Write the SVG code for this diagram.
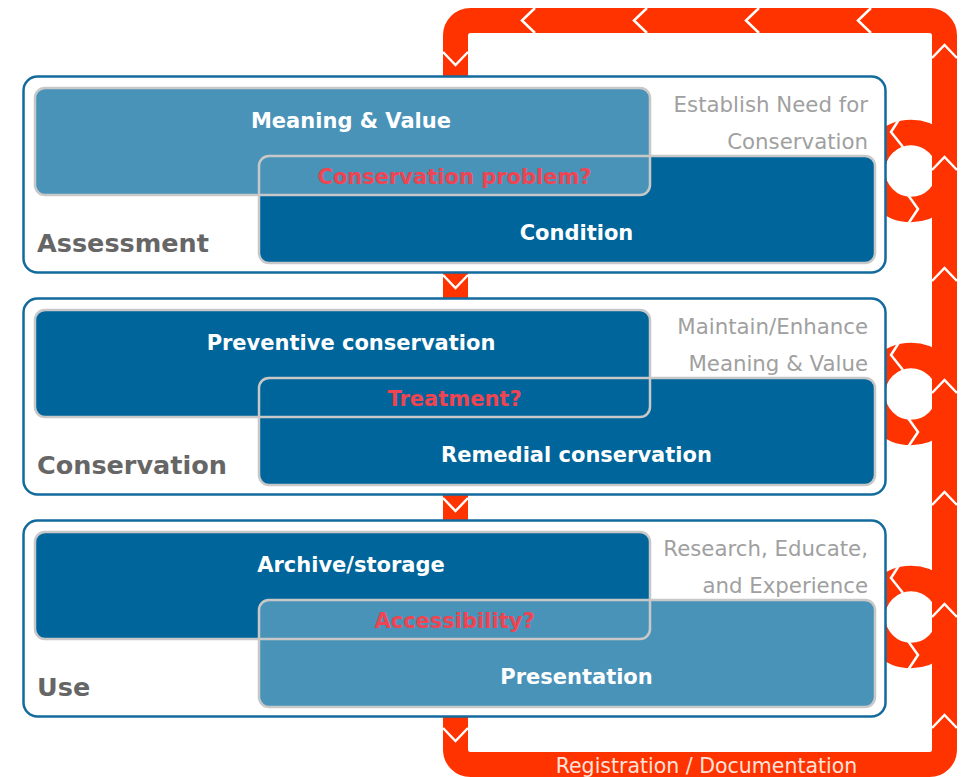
<svg xmlns="http://www.w3.org/2000/svg" width="966" height="777" viewBox="0 0 966 777">
  <style>
    text { font-family: "DejaVu Sans", Verdana, sans-serif; }
    .panel { fill: #ffffff; stroke: #126a9d; stroke-width: 2.5; }
    .light { fill: #4a93b8; }
    .dark { fill: #00659a; }
    .edge { fill: none; stroke: #c8c8c8; stroke-width: 2.5; }
    .box-label { fill: #ffffff; font-size: 21px; font-weight: bold; text-anchor: middle; }
    .question { fill: #ef4452; font-size: 21px; font-weight: bold; text-anchor: middle; }
    .stage { fill: #666666; font-size: 25.5px; font-weight: bold; }
    .aim { fill: #a0a0a0; font-size: 21.3px; text-anchor: end; }
    .band { fill: none; stroke: #ff3300; stroke-width: 25; }
    .notch { fill: none; stroke: #ffffff; stroke-width: 2.5; stroke-linejoin: miter; }
    .loop-label { fill: #fde2da; font-size: 20.5px; text-anchor: middle; }
  </style>
  <defs>
    <clipPath id="ring-clip">
      <rect x="840" y="0" width="105" height="777"/>
    </clipPath>
  </defs>

  <!-- connectors: registration loop with its sub-cycles -->
  <g id="connectors">
    <g clip-path="url(#ring-clip)">
      <circle cx="911" cy="171" r="38.5" fill="none" stroke="#ff3300" stroke-width="25.5"/>
      <circle cx="911" cy="394" r="38.5" fill="none" stroke="#ff3300" stroke-width="25.5"/>
      <circle cx="911" cy="617" r="38.5" fill="none" stroke="#ff3300" stroke-width="25.5"/>
    </g>
    <rect class="band" x="455.5" y="20.5" width="489" height="744" rx="15"/>

    <!-- direction notches on the sub-cycles -->
    <polyline class="notch" points="900,118 891,132 903,147"/>
    <polyline class="notch" points="908,195 918,209 908,224"/>
    <polyline class="notch" points="900,341 891,355 903,370"/>
    <polyline class="notch" points="908,418 918,432 908,447"/>
    <polyline class="notch" points="900,564 891,578 903,593"/>
    <polyline class="notch" points="908,641 918,655 908,670"/>

    <!-- direction notches, right side (upwards) -->
    <polyline class="notch" points="932,58 944.5,45 957,58"/>
    <polyline class="notch" points="932,170 944.5,157 957,170"/>
    <polyline class="notch" points="932,281 944.5,268 957,281"/>
    <polyline class="notch" points="932,393 944.5,380 957,393"/>
    <polyline class="notch" points="932,505 944.5,492 957,505"/>
    <polyline class="notch" points="932,617 944.5,604 957,617"/>
    <polyline class="notch" points="932,728 944.5,715 957,728"/>

    <!-- direction notches, top (leftwards) -->
    <polyline class="notch" points="535,8 522,20.5 535,33"/>
    <polyline class="notch" points="647,8 634,20.5 647,33"/>
    <polyline class="notch" points="759,8 746,20.5 759,33"/>
    <polyline class="notch" points="871,8 858,20.5 871,33"/>

    <!-- direction notches, left side (downwards) -->
    <polyline class="notch" points="443,52 455.5,65 468,52"/>
    <polyline class="notch" points="443,275 455.5,288 468,275"/>
    <polyline class="notch" points="443,498 455.5,511 468,498"/>
    <polyline class="notch" points="443,728 455.5,741 468,728"/>

    <text class="loop-label" x="706.5" y="773">Registration / Documentation</text>
  </g>

  <!-- Assessment -->
  <g id="assessment" transform="translate(0,76)">
    <rect class="panel" x="23.5" y="0.5" width="862" height="196" rx="14"/>
    <rect class="light" x="35" y="12" width="615" height="107" rx="10"/>
    <rect class="dark" x="259" y="80" width="616" height="107" rx="10"/>
    <path class="light" d="M259,119 V90 A10,10 0 0 1 269,80 H650 V109 A10,10 0 0 1 640,119 Z"/>
    <rect class="edge" x="35" y="12" width="615" height="107" rx="10"/>
    <rect class="edge" x="259" y="80" width="616" height="107" rx="10"/>
    <text class="box-label" x="351" y="51.5">Meaning &amp; Value</text>
    <text class="question" x="454.5" y="107.5">Conservation problem?</text>
    <text class="box-label" x="576.5" y="164">Condition</text>
    <text class="stage" x="37" y="175.5">Assessment</text>
    <text class="aim" x="868" y="36">Establish Need for</text>
    <text class="aim" x="868" y="72.5">Conservation</text>
  </g>

  <!-- Conservation -->
  <g id="conservation" transform="translate(0,298)">
    <rect class="panel" x="23.5" y="0.5" width="862" height="196" rx="14"/>
    <rect class="dark" x="35" y="12" width="615" height="107" rx="10"/>
    <rect class="dark" x="259" y="80" width="616" height="107" rx="10"/>
    <rect class="edge" x="35" y="12" width="615" height="107" rx="10"/>
    <rect class="edge" x="259" y="80" width="616" height="107" rx="10"/>
    <text class="box-label" x="351" y="51.5">Preventive conservation</text>
    <text class="question" x="454.5" y="107.5">Treatment?</text>
    <text class="box-label" x="576.5" y="164">Remedial conservation</text>
    <text class="stage" x="37" y="175.5">Conservation</text>
    <text class="aim" x="868" y="36">Maintain/Enhance</text>
    <text class="aim" x="868" y="72.5">Meaning &amp; Value</text>
  </g>

  <!-- Use -->
  <g id="use" transform="translate(0,520)">
    <rect class="panel" x="23.5" y="0.5" width="862" height="196" rx="14"/>
    <rect class="dark" x="35" y="12" width="615" height="107" rx="10"/>
    <rect class="light" x="259" y="80" width="616" height="107" rx="10"/>
    <rect class="edge" x="35" y="12" width="615" height="107" rx="10"/>
    <rect class="edge" x="259" y="80" width="616" height="107" rx="10"/>
    <text class="box-label" x="351" y="51.5">Archive/storage</text>
    <text class="question" x="454.5" y="107.5">Accessibility?</text>
    <text class="box-label" x="576.5" y="164">Presentation</text>
    <text class="stage" x="37" y="175.5">Use</text>
    <text class="aim" x="868" y="36">Research, Educate,</text>
    <text class="aim" x="868" y="72.5">and Experience</text>
  </g>
</svg>
